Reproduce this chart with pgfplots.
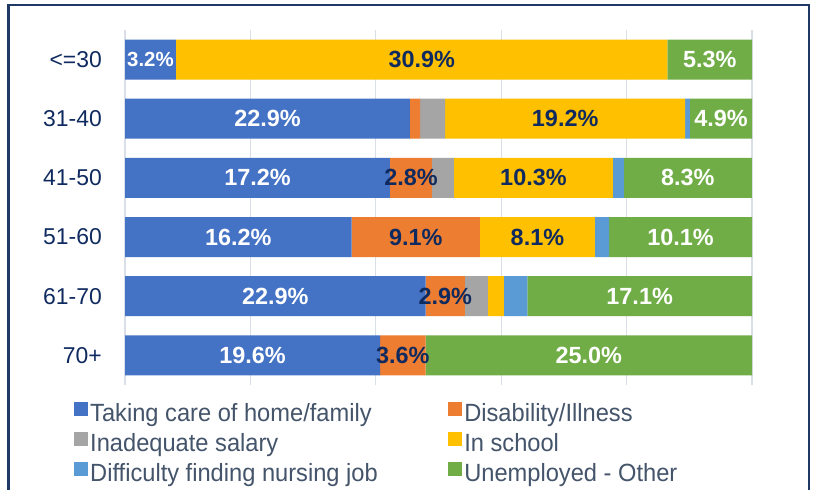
\documentclass[border=0pt]{standalone}
\usepackage{pgfplots}
\pgfplotsset{compat=1.18}
\usepackage{fontspec}
\setmainfont{Liberation Sans}
\newfontfamily\legfont[FakeStretch=0.95]{Liberation Sans}
\definecolor{cBlue}{HTML}{4472C4}
\definecolor{cOrange}{HTML}{ED7D31}
\definecolor{cGray}{HTML}{A5A5A5}
\definecolor{cYellow}{HTML}{FFC000}
\definecolor{cLBlue}{HTML}{5B9BD5}
\definecolor{cGreen}{HTML}{70AD47}
\definecolor{navy}{HTML}{0F2A5F}
\definecolor{frameC}{HTML}{1F3864}
\definecolor{legText}{HTML}{44546A}
\definecolor{gridC}{HTML}{D9DEE8}
\begin{document}
\begin{tikzpicture}[x=1bp,y=1bp]
\useasboundingbox (0,0) rectangle (814,490);
\fill[white] (0,0) rectangle (814,490);
\draw[line width=2.5bp, frameC] (8.5,-5) -- (8.5,485) -- (809,485) -- (809,-5);
\begin{axis}[
  at={(125bp,105bp)}, anchor=south west,
  scale only axis, width=627bp, height=355bp,
  xbar stacked, bar width=40bp,
  xmin=0, xmax=100, ymin=-0.5, ymax=5.5, y dir=reverse,
  ytick={0,1,2,3,4,5},
  yticklabels={{<=30},{31-40},{41-50},{51-60},{61-70},{70+}},
  xtick={0,20,40,60,80,100}, xticklabels={},
  xmajorgrids, major grid style={color=gridC, line width=1.2bp},
  axis line style={draw=none}, tick style={draw=none},
  y tick label style={font=\fontsize{23}{23}\selectfont, color=navy, inner xsep=0pt, xshift=-23bp},
  point meta=explicit symbolic,
  nodes near coords,
  every node near coord/.append style={font=\bfseries\fontsize{23.5}{23.5}\selectfont, anchor=center},
  legend columns=2, legend cell align=left,
  legend image code/.code={\fill[#1, draw=none] (0bp,-1bp) rectangle (13.5bp,12.5bp);},
  legend style={draw=none, fill=none, at={(-0.0813,-0.0479)}, anchor=north west,
    font=\legfont\fontsize{25}{25}\selectfont, text=legText, inner sep=0pt, row sep=6bp,
    nodes={text height=18bp, text depth=5bp, inner ysep=0bp, inner xsep=2.5bp},
    /tikz/every even column/.append style={column sep=68bp}},
]
\addplot[fill=cBlue, draw=none, every node near coord/.append style={white}] coordinates {
  (8.12,0) [{\fontsize{20.5}{20.5}\selectfont 3.2\%}] (45.45,1) [22.9\%] (42.26,2) [17.2\%] (36.15,3) [16.2\%] (47.95,4) [22.9\%] (40.67,5) [19.6\%]};
\addlegendentry{Taking care of home/family}
\addplot[fill=cOrange, draw=none, every node near coord/.append style={navy}] coordinates {
  (0,0) [] (1.6,1) [] (6.7,2) [2.8\%] (20.45,3) [9.1\%] (6.27,4) [2.9\%] (7.29,5) [3.6\%]};
\addlegendentry{Disability/Illness}
\addplot[fill=cGray, draw=none] coordinates {
  (0,0) [] (4.0,1) [] (3.5,2) [] (0,3) [] (3.67,4) [] (0,5) []};
\addlegendentry{Inadequate salary}
\addplot[fill=cYellow, draw=none, every node near coord/.append style={navy}] coordinates {
  (78.4,0) [30.9\%] (38.3,1) [19.2\%] (25.36,2) [10.3\%] (18.35,3) [8.1\%] (2.55,4) [] (0,5) []};
\addlegendentry{In school}
\addplot[fill=cLBlue, draw=none] coordinates {
  (0,0) [] (0.75,1) [] (1.75,2) [] (2.25,3) [] (3.72,4) [] (0,5) []};
\addlegendentry{Difficulty finding nursing job}
\addplot[fill=cGreen, draw=none, every node near coord/.append style={white}] coordinates {
  (13.48,0) [5.3\%] (9.9,1) [4.9\%] (20.4,2) [8.3\%] (22.8,3) [10.1\%] (35.84,4) [17.1\%] (52.04,5) [25.0\%]};
\addlegendentry{Unemployed - Other}
\end{axis}
\end{tikzpicture}
\end{document}
